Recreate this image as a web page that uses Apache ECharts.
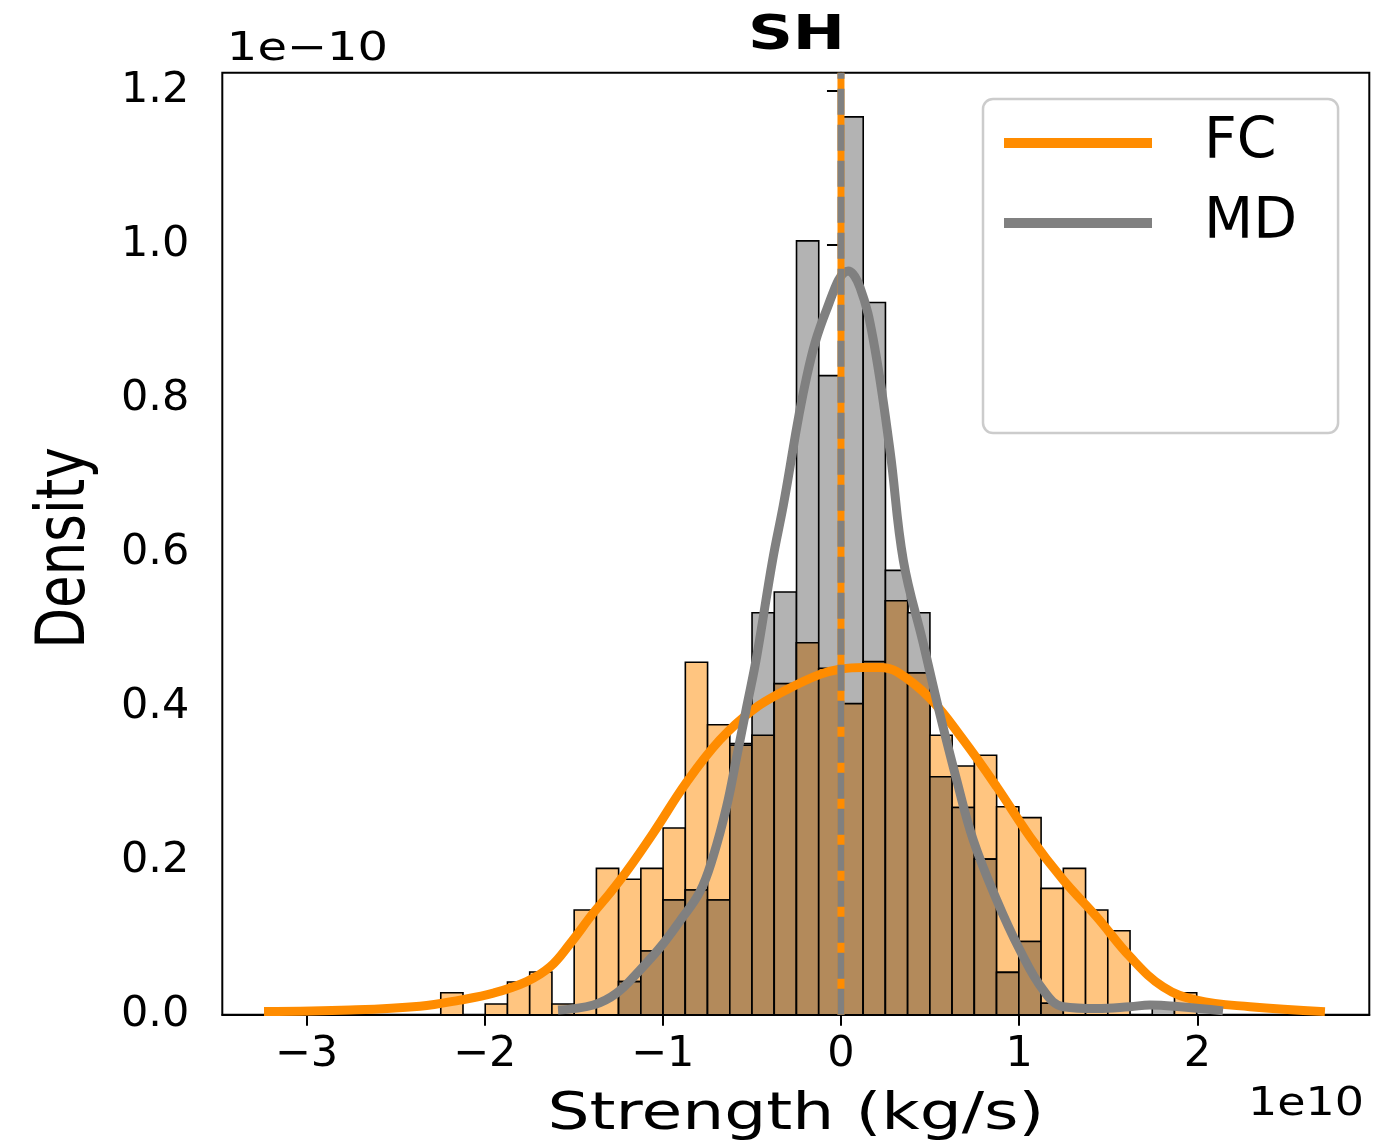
<!DOCTYPE html>
<html>
<head>
<meta charset="utf-8">
<title>SH</title>
<script src="https://cdn.jsdelivr.net/npm/echarts@6/dist/echarts.min.js"></script>
<style>
    html, body { margin: 0; padding: 0; background: #fff; }
    #main { width: 1393px; height: 1146px; }
</style>
</head>
<body>
<div id="main"></div>
<script>
    // histogram bins (x in 1e10 kg/s, density in 1e-10)
    var binStart = -2.246;
    var binWidth = 0.12478;
    var fcDensity = [0.0286, 0, 0.0139, 0.0425, 0.0555, 0.0139, 0.136, 0.190, 0.176, 0.190,
        0.2425, 0.4577, 0.3766, 0.350, 0.363, 0.430, 0.483, 0.450, 0.404, 0.4585,
        0.5377, 0.444, 0.363, 0.323, 0.337, 0.270, 0.256, 0.164, 0.190, 0.136,
        0.109, 0, 0, 0.0286];
    var mdDensity = [0, 0, 0, 0, 0, 0, 0, 0, 0.043, 0.0827,
        0.149, 0.162, 0.149, 0.352, 0.522, 0.549, 1.005, 0.830, 1.166, 0.925,
        0.577, 0.522, 0.309, 0.269, 0.202, 0.055, 0.095, 0.0148, 0, 0,
        0, 0, 0.0156, 0];

    // kde curves
    var fcKdeX = [-3.238, -2.755, -2.363, -2.138, -1.951, -1.764, -1.633, -1.521, -1.390, -1.296,
        -1.203, -1.053, -0.866, -0.679, -0.494, -0.305, -0.118, 0.0, 0.125, 0.219,
        0.313, 0.499, 0.686, 0.874, 1.061, 1.247, 1.435, 1.622, 1.809, 1.996,
        2.295, 2.716];
    var fcKdeY = [0.004, 0.006, 0.011, 0.019, 0.028, 0.043, 0.062, 0.092, 0.132, 0.158,
        0.186, 0.236, 0.302, 0.357, 0.396, 0.422, 0.442, 0.449, 0.451, 0.451,
        0.4455, 0.411, 0.357, 0.296, 0.231, 0.175, 0.127, 0.0753, 0.036, 0.019,
        0.0104, 0.004];
    var mdKdeX = [-1.588, -1.390, -1.259, -1.128, -1.016, -0.903, -0.791, -0.718, -0.642, -0.585,
        -0.529, -0.473, -0.384, -0.324, -0.192, -0.080, 0.041, 0.107, 0.181, 0.275,
        0.350, 0.462, 0.545, 0.649, 0.742, 0.874, 1.004, 1.135, 1.247, 1.435,
        1.622, 1.734, 1.902, 2.144];
    var mdKdeY = [0.006, 0.0126, 0.028, 0.058, 0.087, 0.122, 0.160, 0.205, 0.270, 0.335,
        0.400, 0.465, 0.590, 0.661, 0.829, 0.916, 0.966, 0.9445, 0.877, 0.733,
        0.590, 0.482, 0.400, 0.305, 0.227, 0.149, 0.084, 0.032, 0.0104, 0.008,
        0.0104, 0.0126, 0.0104, 0.005];

    var meanLine = 0;
    var xTicks = [-3, -2, -1, 0, 1, 2];
    var yTicks = [0, 0.2, 0.4, 0.6, 0.8, 1.0, 1.2];
    var xMin = -3.472, xMax = 2.965;
    var yMax = 1.2234;

    var FONT = '"DejaVu Sans", sans-serif';

    var histData = fcDensity.map(function (v, i) {
        var l = binStart + i * binWidth;
        return [l, l + binWidth, v, mdDensity[i]];
    });
    function pairs(xs, ys) {
        return xs.map(function (x, i) { return [x, ys[i]]; });
    }

    function renderHist(params, api) {
        var l = api.value(0), r = api.value(1), fc = api.value(2), md = api.value(3);
        var kids = [];
        function bar(h, fill) {
            var p0 = api.coord([l, 0]);
            var p1 = api.coord([r, h]);
            kids.push({
                type: 'rect',
                shape: { x: p0[0], y: p1[1], width: p1[0] - p0[0], height: p0[1] - p1[1] },
                style: { fill: fill, stroke: '#000', lineWidth: 1.6 }
            });
        }
        if (fc > 0) bar(fc, '#ffc580');
        if (md > 0) bar(md, '#b3b3b3');
        if (fc > 0 && md > 0) bar(Math.min(fc, md), '#b38a5b');
        return { type: 'group', children: kids };
    }

    var myChart = echarts.init(document.getElementById('main'));
    var option = {
        animation: false,
        backgroundColor: '#fff',
        grid: {
            left: 222.3, top: 72.7, right: 23.7, bottom: 131.3,
            show: true, borderColor: '#000', borderWidth: 2, backgroundColor: 'transparent'
        },
        xAxis: {
            type: 'value', min: xMin, max: xMax,
            axisLine: { show: true, lineStyle: { color: '#000', width: 2 } },
            axisTick: { show: true, customValues: xTicks, length: 11, lineStyle: { color: '#000', width: 2 } },
            axisLabel: {
                customValues: xTicks, margin: 19, fontSize: 43, fontFamily: FONT, color: '#000',
                formatter: function (v) { return (v < 0 ? '\u2212' : '') + Math.abs(v); }
            },
            splitLine: { show: false }
        },
        yAxis: {
            type: 'value', min: 0, max: yMax,
            axisLine: { show: true, lineStyle: { color: '#000', width: 2 } },
            axisTick: { show: true, customValues: yTicks, length: 14, lineStyle: { color: '#000', width: 2 } },
            axisLabel: {
                customValues: yTicks, margin: 33, fontSize: 43, fontFamily: FONT, color: '#000',
                padding: [10, 0, 0, 0],
                formatter: function (v) { return v.toFixed(1); }
            },
            splitLine: { show: false }
        },
        legend: {
            data: ['FC', 'MD'],
            orient: 'vertical',
            left: 983, top: 99,
            icon: 'rect',
            itemWidth: 148, itemHeight: 10, itemGap: 20,
            padding: [14, 41, 180, 21],
            backgroundColor: 'rgba(255,255,255,0.8)',
            borderColor: '#cccccc', borderWidth: 2.5, borderRadius: 10,
            textStyle: { fontSize: 57, fontFamily: FONT, color: '#000', lineHeight: 60, padding: [0, 0, 0, 47] }
        },
        graphic: [
            { type: 'text', x: 796.5, y: 37, scaleX: 1.3, style: { text: 'SH', font: 'bold 48px ' + FONT, fill: '#000', align: 'center', verticalAlign: 'middle' } },
            { type: 'text', x: 307.5, y: 50, scaleX: 1.23, style: { text: '1e\u221210', font: '39px ' + FONT, fill: '#000', align: 'center', verticalAlign: 'middle' } },
            { type: 'text', x: 1306, y: 1105, scaleX: 1.18, style: { text: '1e10', font: '39px ' + FONT, fill: '#000', align: 'center', verticalAlign: 'middle' } },
            { type: 'text', x: 796, y: 1116, scaleX: 1.3, style: { text: 'Strength (kg/s)', font: '51px ' + FONT, fill: '#000', align: 'center', verticalAlign: 'middle' } },
            { type: 'text', x: 67, y: 548, rotation: Math.PI / 2, scaleY: 1.27, style: { text: 'Density', font: '53px ' + FONT, fill: '#000', align: 'center', verticalAlign: 'middle' } }
        ],
        series: [
            {
                name: 'hist', type: 'custom', z: 1,
                renderItem: renderHist,
                encode: { x: [0, 1], y: [2, 3] },
                data: histData
            },
            {
                name: 'FC', type: 'line', z: 3, color: '#ff8c00',
                showSymbol: false, smooth: 0.4,
                lineStyle: { color: '#ff8c00', width: 9 },
                data: pairs(fcKdeX, fcKdeY)
            },
            {
                name: 'MD', type: 'line', z: 3, color: '#808080',
                showSymbol: false, smooth: 0.4,
                lineStyle: { color: '#808080', width: 9 },
                data: pairs(mdKdeX, mdKdeY)
            },
            {
                name: 'meanFC', type: 'line', z: 4, showSymbol: false, silent: true,
                lineStyle: { color: '#ff8c00', width: 7 },
                data: [[meanLine, 0], [meanLine, yMax]]
            },
            {
                name: 'meanMD', type: 'line', z: 5, showSymbol: false, silent: true,
                lineStyle: { color: '#808080', width: 7, type: [26, 10] },
                data: [[meanLine, 0], [meanLine, yMax]]
            }
        ]
    };
    myChart.setOption(option);
</script>
</body>
</html>
